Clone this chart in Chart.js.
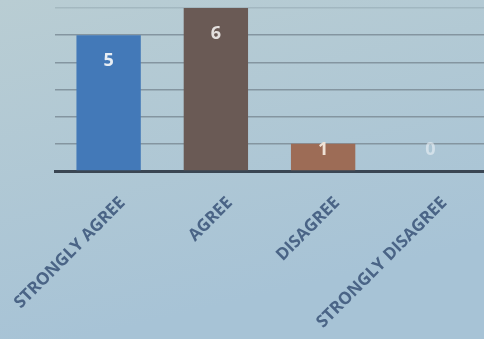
<!DOCTYPE html>
<html>
<head>
<meta charset="utf-8">
<script src="https://cdn.jsdelivr.net/npm/chart.js@4/dist/chart.umd.min.js"></script>
<style>
  html, body { margin: 0; padding: 0; }
  #wrap { width: 484px; height: 339px; }
</style>
</head>
<body>
<div id="wrap"><canvas id="my-chart"></canvas></div>
<script>
'use strict';

// chart data
let categories = ['STRONGLY AGREE', 'AGREE', 'DISAGREE', 'STRONGLY DISAGREE'];
let responses = [5, 6, 1, 0];
let yTicks = [0, 1, 2, 3, 4, 5, 6];

// bar fills, one per category
let barColors = ['#4379b8', '#6a5a55', '#9d6c56', '#9d6c56'];
let valueColors = ['#e8eef4', '#e4e0de', '#efe2d6', 'rgba(235,242,246,0.6)'];

let ctx = document.getElementById('my-chart');

// photo-ish background
let backgroundPlugin = {
  id: 'bg',
  beforeDraw(chart) {
    let c = chart.ctx;
    let g = c.createLinearGradient(0, 0, 80, chart.height);
    g.addColorStop(0, '#b9cdd3');
    g.addColorStop(1, '#a7c3d6');
    c.save();
    c.fillStyle = g;
    c.fillRect(0, 0, chart.width, chart.height);
    c.restore();
  }
};

// numbers written inside the bars
let valuePlugin = {
  id: 'values',
  afterDatasetsDraw(chart) {
    let c = chart.ctx;
    let meta = chart.getDatasetMeta(0);
    let base = chart.scales.y.getPixelForValue(0);
    c.save();
    c.font = 'bold 18px "Open Sans"';
    c.textAlign = 'center';
    c.textBaseline = 'middle';
    meta.data.forEach(function(bar, i) {
      let y = Math.min(bar.y + 26, base - 21);
      c.fillStyle = valueColors[i];
      c.fillText(String(responses[i]), bar.x, y);
    });
    c.restore();
  }
};

let chartObject = {
  type: 'bar',
  data: {
    labels: categories,
    datasets: [{
      label: 'Responses',
      data: responses,
      backgroundColor: barColors,
      borderWidth: 0,
      barPercentage: 0.6,
      categoryPercentage: 1
    }]
  },
  options: {
    responsive: true,
    maintainAspectRatio: false,
    animation: false,
    layout: { padding: { left: 55, top: 8, right: 0, bottom: 0 } },
    plugins: {
      legend: { display: false },
      tooltip: { enabled: false }
    },
    scales: {
      x: {
        grid: { display: false },
        border: { display: true, color: '#3a4653', width: 3 },
        afterFit(scale) {
          scale.height = 168;
          scale.paddingLeft = 0;
          scale.paddingRight = 0;
        },
        ticks: {
          minRotation: 45,
          maxRotation: 45,
          autoSkip: false,
          padding: 14,
          labelOffset: 14,
          color: '#4a6486',
          font: { family: '"Open Sans"', size: 17, weight: 'bold' }
        }
      },
      y: {
        min: 0,
        max: 6,
        afterBuildTicks(scale) {
          scale.ticks = yTicks.map(function(v) { return { value: v }; });
        },
        afterFit(scale) { scale.width = 0; },
        ticks: { display: false },
        border: { display: false },
        grid: {
          drawTicks: false,
          lineWidth: 1.5,
          color(c) {
            if (c.tick.value === 0) return 'rgba(0,0,0,0)';
            if (c.tick.value === 6) return 'rgba(120,140,150,0.3)';
            return '#8495a0';
          }
        }
      }
    }
  },
  plugins: [backgroundPlugin, valuePlugin]
};

const myChart = new Chart(ctx, chartObject);
</script>
</body>
</html>
